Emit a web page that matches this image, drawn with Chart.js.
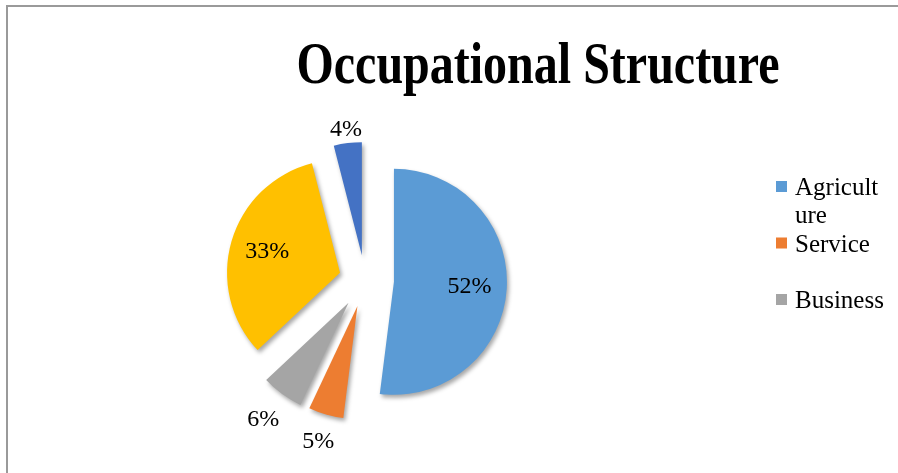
<!DOCTYPE html>
<html>
<head>
<meta charset="utf-8">
<script src="https://cdn.jsdelivr.net/npm/chart.js@4.4.1/dist/chart.umd.min.js"></script>
<style>
  body { margin: 0; background: #fff; }
  #wrap { position: relative; width: 898px; height: 473px; overflow: hidden; }
  #frame { position: absolute; left: 6px; top: 5px; width: 910px; height: 490px;
           border-top: 2px solid #9a9a9a; border-left: 2px solid #9a9a9a; pointer-events: none; }
</style>
</head>
<body>
<div id="wrap">
  <canvas id="pieChart" width="898" height="473"></canvas>
  <div id="frame"></div>
</div>
<script>
const chartTitle = 'Occupational Structure';
const sectors = ['Agriculture', 'Service', 'Business', 'Labour', 'Others'];
const shares = [52, 5, 6, 33, 4];
const sliceColors = ['#5B9BD5', '#ED7D31', '#A5A5A5', '#FFC000', '#4472C4'];
const explode = [29, 27, 28, 26, 25];   // px each slice is pulled out
const labelGap = [0, 28, 32, 0, 13];    // gap of outside labels past the rim
// legend in the original only shows the first three entries, the rest is cut off
const legendShown = 3;

const serif = '"Liberation Serif", "Times New Roman", serif';

// break a label on characters when it gets too wide (like the original legend)
function wrapChars(ctx, text, maxW) {
    const lines = [];
    let cur = '';
    for (const ch of text) {
        if (cur && ctx.measureText(cur + ch).width > maxW) {
            lines.push(cur);
            cur = ch;
        } else {
            cur += ch;
        }
    }
    lines.push(cur);
    return lines;
}

// chart.js "offset" also grows the arc, so pull the slices out ourselves
const piePlugin = {
    id: 'pieExtras',
    beforeDatasetsDraw(chart) {
        const ctx = chart.ctx;
        const meta = chart.getDatasetMeta(0);
        ctx.save();
        ctx.shadowColor = 'rgba(0,0,0,0.35)';
        ctx.shadowBlur = 4;
        ctx.shadowOffsetX = 2;
        ctx.shadowOffsetY = 3;
        meta.data.forEach((arc, i) => {
            const mid = (arc.startAngle + arc.endAngle) / 2;
            ctx.save();
            ctx.translate(Math.cos(mid) * explode[i], Math.sin(mid) * explode[i]);
            arc.draw(ctx, chart.chartArea);
            ctx.restore();
        });
        ctx.restore();
        return false;
    },
    afterDraw(chart) {
        const ctx = chart.ctx;
        const meta = chart.getDatasetMeta(0);
        ctx.save();
        ctx.font = `24px ${serif}`;
        ctx.fillStyle = '#000';
        ctx.textAlign = 'center';
        ctx.textBaseline = 'middle';
        meta.data.forEach((arc, i) => {
            const p = arc.getProps(['x', 'y', 'startAngle', 'endAngle', 'outerRadius'], true);
            const mid = (p.startAngle + p.endAngle) / 2;
            const dist = shares[i] >= 10
                ? explode[i] + p.outerRadius * 0.67
                : explode[i] + p.outerRadius + labelGap[i];
            ctx.fillText(shares[i] + '%', p.x + Math.cos(mid) * dist, p.y + Math.sin(mid) * dist);
        });
        ctx.restore();
    }
};

const titlePlugin = {
    id: 'stretchedTitle',
    afterDraw(chart) {
        const ctx = chart.ctx;
        ctx.save();
        ctx.translate(538, 83);
        ctx.scale(1, 1.25);
        ctx.font = `bold 48px ${serif}`;
        ctx.fillStyle = '#000';
        ctx.textAlign = 'center';
        ctx.textBaseline = 'alphabetic';
        ctx.fillText(chartTitle, 0, 0);
        ctx.restore();
    }
};

const legendPlugin = {
    id: 'sideLegend',
    afterDraw(chart) {
        const ctx = chart.ctx;
        ctx.save();
        ctx.font = `25px ${serif}`;
        ctx.textBaseline = 'alphabetic';
        let baseY = 195;
        for (let i = 0; i < legendShown; i++) {
            ctx.fillStyle = sliceColors[i];
            ctx.fillRect(776, baseY - 14, 11, 11);
            ctx.fillStyle = '#000';
            wrapChars(ctx, sectors[i], 92).forEach((line, k) => {
                ctx.fillText(line, 795, baseY + k * 28);
            });
            baseY += 56.5;
        }
        ctx.restore();
    }
};

new Chart(document.getElementById('pieChart'), {
    type: 'pie',
    data: {
        labels: sectors,
        datasets: [{
            data: shares,
            backgroundColor: sliceColors,
            borderWidth: 0,
            hoverOffset: 0
        }]
    },
    options: {
        responsive: false,
        animation: false,
        radius: 113,
        layout: { padding: { left: 80, right: 248, top: 130, bottom: 43 } },
        plugins: {
            legend: { display: false },
            title: { display: false },
            tooltip: { enabled: false }
        }
    },
    plugins: [piePlugin, titlePlugin, legendPlugin]
});
</script>
</body>
</html>
